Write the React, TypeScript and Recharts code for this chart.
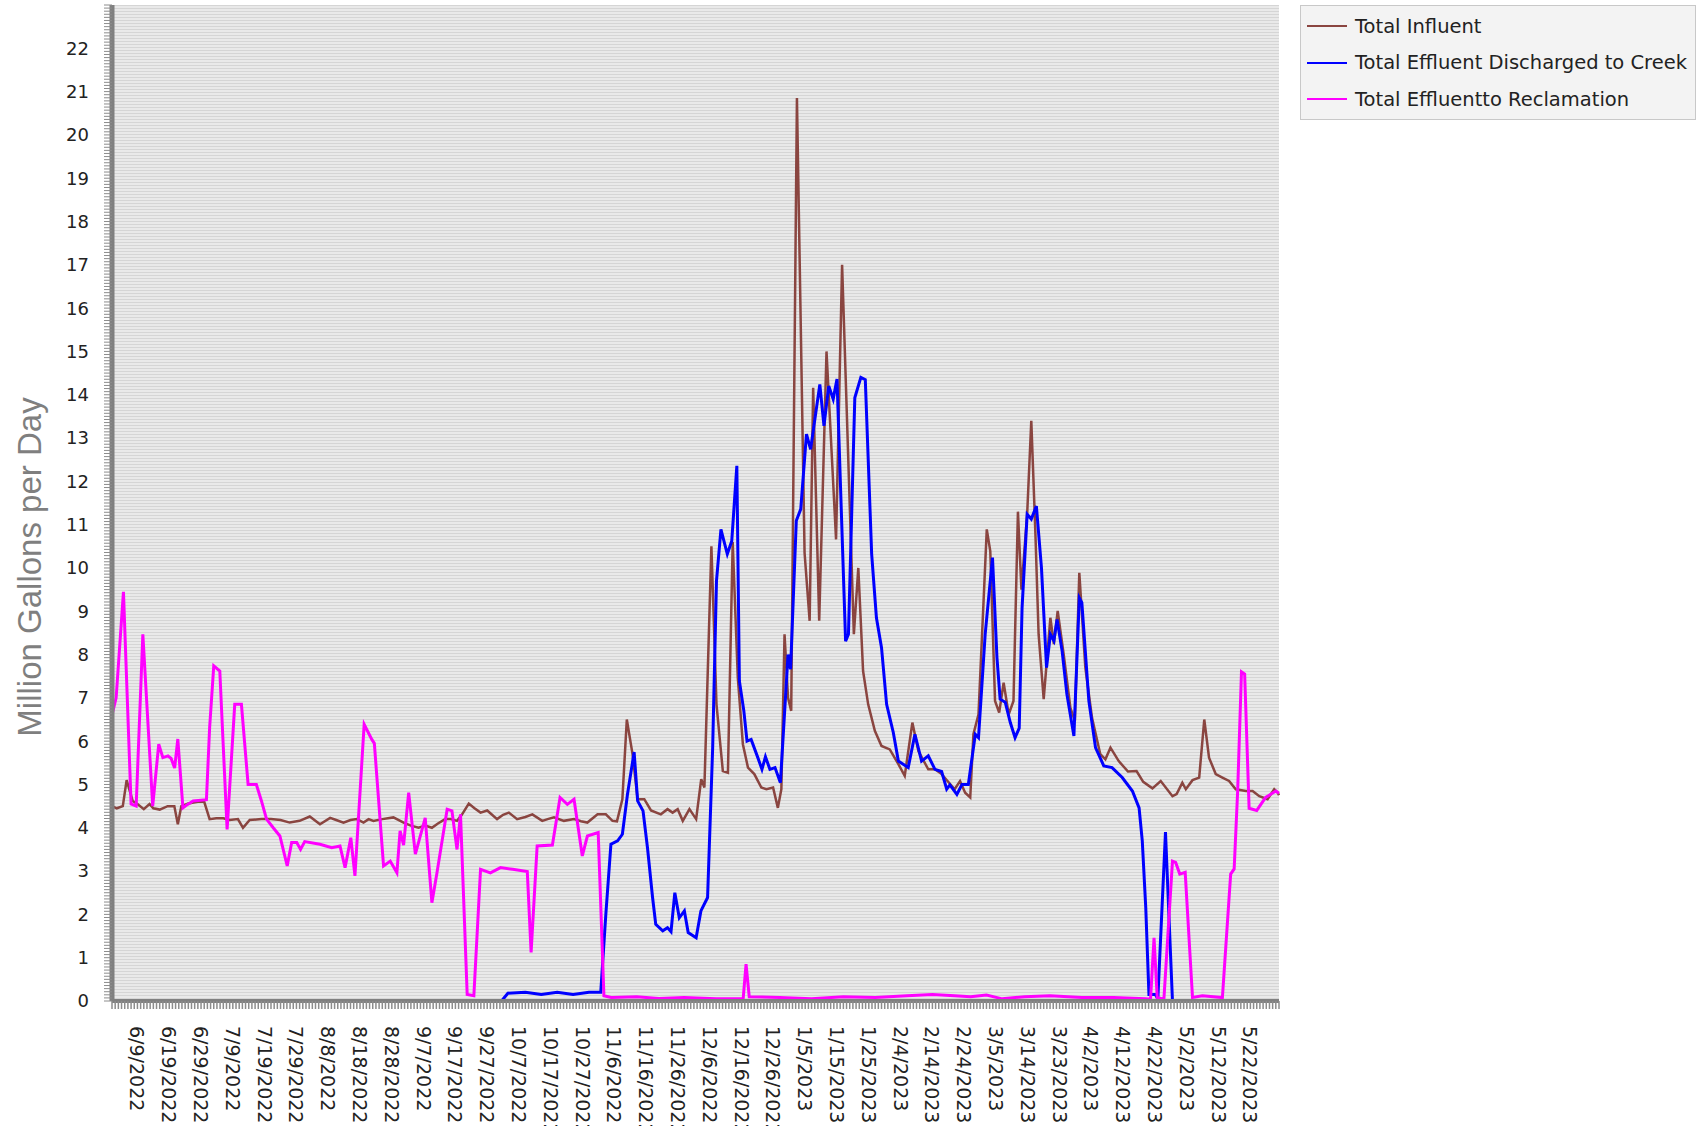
import { CartesianGrid, Legend, Line, LineChart, XAxis, YAxis } from "recharts";

// x = day index (0 = 6/1/2022), one category per reported day
const dateLabels = [
  "6/9/2022", "6/19/2022", "6/29/2022", "7/9/2022", "7/19/2022", "7/29/2022",
  "8/8/2022", "8/18/2022", "8/28/2022", "9/7/2022", "9/17/2022", "9/27/2022",
  "10/7/2022", "10/17/2022", "10/27/2022", "11/6/2022", "11/16/2022", "11/26/2022",
  "12/6/2022", "12/16/2022", "12/26/2022", "1/5/2023", "1/15/2023", "1/25/2023",
  "2/4/2023", "2/14/2023", "2/24/2023", "3/5/2023", "3/14/2023", "3/23/2023",
  "4/2/2023", "4/12/2023", "4/22/2023", "5/2/2023", "5/12/2023", "5/22/2023",
];
const firstLabelDay = 8;
const labelEvery = 10;
const lastDay = 367;
const yMax = 23;

const influent: [number, number][] = [
  [0, 4.5], [1.5, 4.45], [3.4, 4.5], [4.6, 5.1], [6.5, 4.62], [8, 4.55], [10, 4.43],
  [11.8, 4.55], [13, 4.45], [15, 4.42], [17.5, 4.5], [19.6, 4.5], [20.7, 4.08],
  [21.8, 4.5], [24, 4.56], [27, 4.6], [29, 4.6], [30.7, 4.2], [32.8, 4.22], [35, 4.22],
  [37, 4.18], [39.6, 4.2], [41.2, 4.0], [43.3, 4.18], [47, 4.2], [50, 4.2], [53, 4.18],
  [55.9, 4.12], [59, 4.16], [62.2, 4.26], [65.4, 4.08], [68.6, 4.23], [70.5, 4.18],
  [72.8, 4.12], [75, 4.18], [77, 4.2], [79.1, 4.12], [80.7, 4.2], [82.2, 4.16],
  [85, 4.2], [88.5, 4.24], [91.7, 4.12], [94, 4.05], [96.4, 4.0], [98.5, 4.05],
  [100.6, 4.0], [102.5, 4.1], [104.8, 4.2], [106.5, 4.2], [108.5, 4.16], [110, 4.3],
  [112.2, 4.56], [114, 4.45], [115.9, 4.35], [118, 4.4], [121.1, 4.2], [123, 4.3],
  [124.8, 4.35], [127.4, 4.2], [130, 4.25], [132.2, 4.31], [135.3, 4.16], [137, 4.2],
  [139, 4.24], [142.1, 4.16], [145.3, 4.2], [147.5, 4.15], [149.5, 4.12], [152.7, 4.31],
  [155.3, 4.31], [157.4, 4.16], [158.8, 4.15], [160.5, 4.66], [161.9, 6.5], [163.7, 5.7],
  [165.3, 4.66], [167.4, 4.66], [169.5, 4.4], [172.6, 4.31], [174.7, 4.43], [176.3, 4.35],
  [177.9, 4.43], [179.5, 4.16], [181.6, 4.43], [183.7, 4.2], [185.3, 5.12], [186.3, 4.93],
  [188.5, 10.5], [190.1, 6.85], [192.1, 5.31], [193.7, 5.27], [195.2, 10.6], [196.8, 7.47],
  [198.4, 5.93], [200, 5.39], [202, 5.24], [204.2, 4.93], [205.8, 4.89], [207.9, 4.93],
  [209.4, 4.46], [210.5, 4.89], [211.5, 8.47], [212.6, 7.0], [213.6, 6.7], [215.4, 20.85],
  [217.8, 10.35], [219.4, 8.78], [220.5, 14.16], [222.4, 8.78], [224.7, 15.0],
  [227.7, 10.66], [229.6, 17.0], [233.3, 8.47], [234.7, 10.0], [236.2, 7.62],
  [237.8, 6.85], [239.9, 6.24], [242, 5.89], [244.6, 5.81], [247.3, 5.47], [249.3, 5.2],
  [251.7, 6.43], [253.6, 5.77], [256.7, 5.35], [258.8, 5.35], [260.9, 5.24], [265, 4.89],
  [266.7, 5.08], [268.3, 4.81], [269.9, 4.7], [270.9, 6.16], [272.5, 6.62], [275.1, 10.89],
  [276.2, 10.39], [277.7, 6.93], [279, 6.66], [280.4, 7.35], [282, 6.62], [283.5, 6.93],
  [284.9, 11.3], [286, 9.5], [287.8, 11.24], [289.1, 13.4], [290.4, 10.78], [291.4, 8.47],
  [293, 6.97], [295.1, 8.85], [296.2, 8.24], [297.4, 9.01], [299.3, 8.0], [301.4, 6.77],
  [302.8, 6.47], [304.2, 9.89], [306.1, 7.7], [308.2, 6.54], [310.8, 5.7], [312.4, 5.58],
  [314, 5.85], [316.6, 5.54], [319.5, 5.3], [322.2, 5.31], [324.3, 5.06], [327.2, 4.91],
  [329.8, 5.08], [333.5, 4.73], [334.8, 4.78], [336.6, 5.04], [337.7, 4.89], [339.8, 5.1],
  [341.9, 5.16], [343.5, 6.5], [345, 5.62], [347.1, 5.24], [349.2, 5.16], [351.3, 5.08],
  [353.4, 4.89], [356.6, 4.85], [358.7, 4.85], [360.8, 4.73], [363.4, 4.66], [365.5, 4.89],
  [366.6, 4.81], [367, 4.75],
];

const toCreek: [number, number][] = [
  [0, 0], [122.5, 0], [124.5, 0.18], [130, 0.2], [135, 0.15], [140, 0.2], [145, 0.15],
  [150, 0.2], [153.7, 0.2], [155.3, 2.0], [156.9, 3.62], [159, 3.7], [160.5, 3.85],
  [162.1, 4.77], [164.2, 5.75], [165.3, 4.62], [167, 4.39], [168.4, 3.54], [170, 2.39],
  [171, 1.77], [173.2, 1.62], [174.7, 1.69], [175.8, 1.6], [177, 2.5], [178.4, 1.92],
  [180, 2.08], [181.2, 1.58], [183.7, 1.46], [185.2, 2.08], [187.3, 2.39], [188.9, 5.85],
  [190.1, 9.7], [191.5, 10.89], [193.5, 10.32], [194.9, 10.62], [196.5, 12.36],
  [197.3, 7.39], [198.7, 6.7], [199.7, 6.0], [201, 6.04], [203.1, 5.62], [204.4, 5.35],
  [205.5, 5.64], [206.9, 5.35], [208.5, 5.39], [210.2, 5.04], [212.6, 8.0], [213.4, 7.66],
  [215.2, 11.09], [216.6, 11.36], [218.4, 13.09], [219.7, 12.74], [222.6, 14.24],
  [223.9, 13.28], [225.4, 14.2], [226.8, 13.9], [228, 14.36], [230.7, 8.31], [231.6, 8.47],
  [233.6, 13.93], [235.5, 14.4], [236.9, 14.35], [238.9, 10.32], [240.4, 8.85],
  [242, 8.16], [243.6, 6.85], [245.7, 6.2], [247.3, 5.54], [250.4, 5.39], [252.5, 6.16],
  [254.6, 5.54], [256.7, 5.66], [258.8, 5.35], [260.9, 5.3], [262.5, 4.89], [263.5, 4.99],
  [265.7, 4.77], [267.3, 5.0], [269.3, 5.0], [271.5, 6.16], [272.5, 6.08], [274.6, 8.47],
  [276.9, 10.24], [278.3, 7.93], [279.3, 6.97], [280.9, 6.9], [282.5, 6.43], [284, 6.08],
  [285.3, 6.3], [286.2, 9.08], [287.8, 11.24], [289.1, 11.13], [290.7, 11.43],
  [292.3, 10.0], [293.9, 7.7], [295.1, 8.47], [296.2, 8.32], [297.2, 8.81], [298.8, 8.08],
  [300.3, 7.08], [302.5, 6.12], [304.2, 9.31], [305, 9.2], [307.2, 6.93], [309.3, 5.85],
  [311.9, 5.43], [314.5, 5.39], [317.7, 5.16], [320.9, 4.85], [323, 4.46], [324, 3.7],
  [325.1, 2.15], [326.1, 0.15], [328.1, 0.15], [328.9, 0.05], [331.3, 3.9], [333.5, 0],
  [367, 0],
];

const toReclamation: [number, number][] = [
  [0, 6.6], [1.3, 7.0], [3.6, 9.45], [6, 4.55], [7.6, 4.5], [9.7, 8.47], [12.8, 4.5],
  [14.7, 5.93], [16, 5.62], [17.6, 5.66], [18.6, 5.6], [19.7, 5.38], [20.7, 6.05],
  [22.3, 4.46], [23.8, 4.54], [25.5, 4.62], [29.7, 4.65], [30.7, 6.31], [32, 7.74],
  [33.9, 7.62], [36.2, 3.96], [38.6, 6.85], [40.7, 6.85], [42.8, 5.0], [45.4, 5.0],
  [47, 4.62], [48.6, 4.2], [50.7, 4.0], [52.8, 3.81], [55.1, 3.12], [56.5, 3.66],
  [58.1, 3.66], [59.3, 3.5], [60.6, 3.68], [65.4, 3.62], [69.1, 3.54], [71.7, 3.58],
  [73.3, 3.08], [75.1, 3.77], [76.4, 2.89], [79.3, 6.39], [81.7, 6.04], [82.5, 5.95],
  [85.4, 3.12], [87.5, 3.23], [89.6, 2.96], [90.6, 3.93], [91.7, 3.6], [93.3, 4.81],
  [95.4, 3.39], [98.5, 4.23], [100.6, 2.27], [102.2, 2.96], [105.4, 4.43], [106.9, 4.39],
  [108.5, 3.5], [109.6, 4.31], [111.7, 0.15], [113.8, 0.12], [115.9, 3.04], [119, 2.96],
  [122.2, 3.08], [126, 3.04], [130.6, 2.99], [131.8, 1.12], [133.7, 3.58], [138.5, 3.6],
  [140.9, 4.7], [143.2, 4.54], [145.3, 4.66], [147.9, 3.35], [149.5, 3.81], [152.9, 3.89],
  [154.7, 0.12], [157, 0.08], [165, 0.1], [172, 0.06], [180, 0.08], [190, 0.05],
  [198.5, 0.06], [199.4, 0.85], [200.4, 0.1], [210, 0.08], [220, 0.05], [230, 0.1],
  [240, 0.08], [250, 0.12], [258, 0.15], [265, 0.12], [270, 0.1], [275, 0.14], [280, 0.05],
  [287, 0.1], [295, 0.12], [305, 0.08], [315, 0.08], [325, 0.05], [326.6, 0.04],
  [327.7, 1.46], [328.7, 0.08], [330.8, 0.04], [333.5, 3.23], [334.5, 3.2], [335.8, 2.93],
  [337.5, 2.97], [339.8, 0.08], [342.9, 0.12], [349.2, 0.08], [351.8, 2.93], [352.9, 3.05],
  [354, 4.85], [355.2, 7.6], [356.2, 7.55], [357.6, 4.45], [360, 4.4], [362.8, 4.7],
  [366, 4.85], [367, 4.8],
];

const toRows = (pts: [number, number][]) => pts.map(([x, y]) => ({ x, y }));

const xTicks = Array.from({ length: lastDay + 1 }, (_, i) => i);
const yTicks = Array.from({ length: yMax * 14 + 1 }, (_, k) => k / 14);

const FONT = "'DejaVu Sans', Verdana, sans-serif";

function DateTick(props: any) {
  const { x, y, payload } = props;
  const d = payload.value - firstLabelDay;
  if (d < 0 || d % labelEvery !== 0) return <g />;
  const label = dateLabels[d / labelEvery];
  if (!label) return <g />;
  return (
    <text
      x={x}
      y={y}
      transform={`rotate(90 ${x} ${y})`}
      textAnchor="start"
      dominantBaseline="central"
      fontSize={19}
      fontFamily={FONT}
      fill="#222"
    >
      {label}
    </text>
  );
}

function AxisTitle() {
  return (
    <text
      x={29}
      y={567}
      transform="rotate(-90 29 567)"
      textAnchor="middle"
      dominantBaseline="central"
      fontSize={33}
      fontFamily="'Liberation Sans', Arial, sans-serif"
      fill="#7f7f7f"
    >
      Million Gallons per Day
    </text>
  );
}

function LegendBox(props: any) {
  const { payload = [] } = props;
  return (
    <div
      style={{
        width: 396,
        height: 115,
        boxSizing: "border-box",
        background: "#f3f3f3",
        border: "1px solid #c8c8c8",
        paddingTop: 2,
        fontFamily: FONT,
        fontSize: 19.5,
        color: "#222",
      }}
    >
      {payload.map((p: any) => (
        <div key={p.value} style={{ display: "flex", alignItems: "center", height: 36.5 }}>
          <svg width={48} height={6} style={{ marginLeft: 6 }}>
            <line x1={0} y1={3} x2={40} y2={3} stroke={p.color} strokeWidth={2} />
          </svg>
          <span style={{ whiteSpace: "nowrap" }}>{p.value}</span>
        </div>
      ))}
    </div>
  );
}

const yLabel = (v: number) => {
  const r = Math.round(v);
  return Math.abs(v - r) < 1e-6 && r < yMax ? String(r) : "";
};

export default function App() {
  return (
    <div style={{ position: "absolute", left: 0, top: 0, background: "#fff" }}>
      <LineChart width={1701} height={1126} margin={{ top: 5, right: 422, bottom: 0, left: 0 }}>
        <defs>
          <pattern id="stripes" width="8" height="3" patternUnits="userSpaceOnUse">
            <rect width="8" height="3" fill="#e9e9e9" />
            <rect y="2" width="8" height="1" fill="#d5d5d5" />
          </pattern>
        </defs>
        <CartesianGrid horizontal={false} vertical={false} fill="url(#stripes)" />
        <XAxis
          dataKey="x"
          type="number"
          domain={[0, lastDay]}
          ticks={xTicks}
          interval={0}
          height={125}
          tickSize={8}
          tickMargin={17}
          axisLine={{ stroke: "#808080", strokeWidth: 4 }}
          tickLine={{ stroke: "#8c8c8c", strokeWidth: 1.5 }}
          tick={<DateTick />}
        />
        <YAxis
          type="number"
          domain={[0, yMax]}
          ticks={yTicks}
          interval={0}
          width={112}
          tickSize={8}
          tickMargin={15}
          axisLine={{ stroke: "#808080", strokeWidth: 5 }}
          tickLine={{ stroke: "#8c8c8c", strokeWidth: 1 }}
          tickFormatter={yLabel}
          tick={{ fontSize: 18, fontFamily: FONT, fill: "#222" }}
          label={<AxisTitle />}
        />
        <Legend
          layout="vertical"
          align="center"
          verticalAlign="middle"
          wrapperStyle={{ left: 1300, top: 5, width: 396, height: 115 }}
          content={<LegendBox />}
        />
        <Line
          data={toRows(influent)}
          dataKey="y"
          name="Total  Influent"
          stroke="#8a4540"
          strokeWidth={2.5}
          dot={false}
          activeDot={false}
          isAnimationActive={false}
        />
        <Line
          data={toRows(toCreek)}
          dataKey="y"
          name="Total Effluent Discharged to Creek"
          stroke="#0000ff"
          strokeWidth={3}
          dot={false}
          activeDot={false}
          isAnimationActive={false}
        />
        <Line
          data={toRows(toReclamation)}
          dataKey="y"
          name="Total Effluentto Reclamation"
          stroke="#ff00ff"
          strokeWidth={3}
          dot={false}
          activeDot={false}
          isAnimationActive={false}
        />
      </LineChart>
    </div>
  );
}
